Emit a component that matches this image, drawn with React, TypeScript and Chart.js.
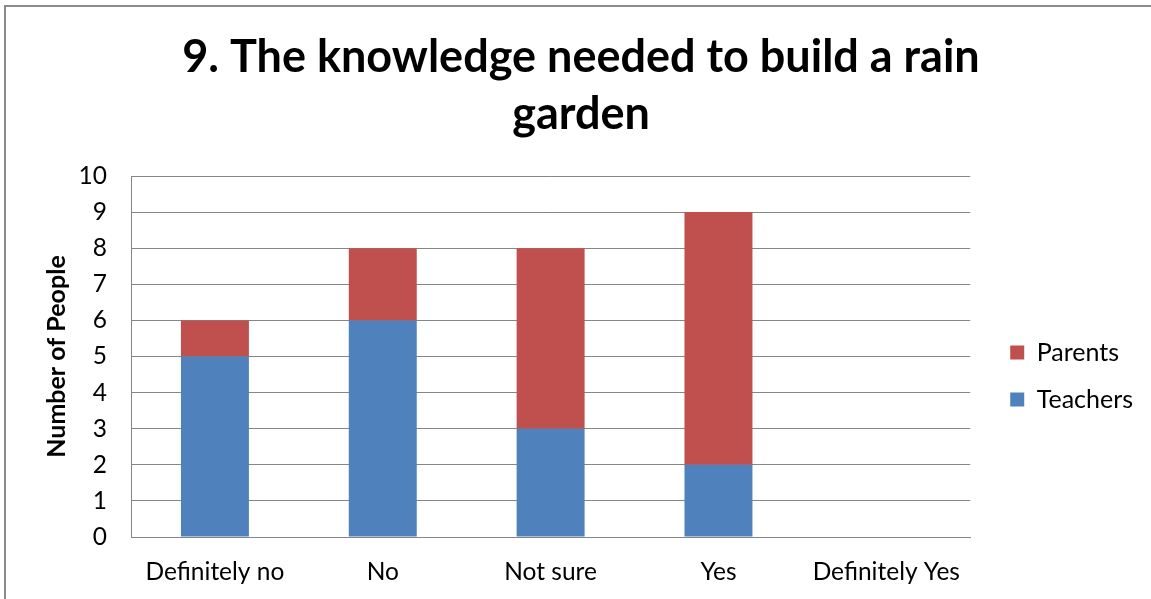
import React, { useEffect, useRef } from "react";
import { Chart, registerables } from "chart.js";

Chart.register(...registerables);

const categories = ["Definitely no", "No", "Not sure", "Yes", "Definitely Yes"];
const teachers = [5, 6, 3, 2, 0];
const parents = [1, 2, 5, 7, 0];
const titleLines = ["9. The knowledge needed to build a rain", "garden"];
const yAxisTitle = "Number of People";

const FONT = "Lato, 'Open Sans', sans-serif";

export default function App() {
  const ref = useRef<HTMLCanvasElement | null>(null);

  useEffect(() => {
    if (!ref.current) return;
    const chart = new Chart(ref.current, {
      type: "bar",
      data: {
        labels: categories,
        datasets: [
          {
            label: "Teachers",
            data: teachers,
            backgroundColor: "#4F81BD",
            borderWidth: 0,
            categoryPercentage: 1,
            barPercentage: 0.405,
          },
          {
            label: "Parents",
            data: parents,
            backgroundColor: "#C0504D",
            borderWidth: 0,
            categoryPercentage: 1,
            barPercentage: 0.405,
          },
        ],
      },
      options: {
        animation: false,
        responsive: true,
        maintainAspectRatio: false,
        layout: { padding: { top: 0, right: 8, bottom: 0, left: 13 } },
        plugins: {
          title: {
            display: true,
            text: titleLines,
            color: "#000",
            font: { family: FONT, size: 45, weight: "bold", lineHeight: 57 / 45 },
            padding: { top: 22, bottom: 33 },
          },
          legend: {
            display: true,
            position: "right",
            align: "start",
            reverse: true,
            title: {
              display: true,
              text: "_",
              color: "rgba(0,0,0,0)",
              font: { size: 10 },
              padding: 149.5,
            },
            labels: {
              boxWidth: 14,
              boxHeight: 14,
              padding: 22,
              color: "#000",
              font: { family: FONT, size: 25 },
            },
          },
          tooltip: { enabled: false },
        },
        scales: {
          x: {
            stacked: true,
            grid: { display: false, drawTicks: false },
            border: { display: true, color: "#868686", width: 1 },
            ticks: { color: "#000", font: { family: FONT, size: 24.5 }, padding: 20, maxRotation: 0 },
            afterFit: (scale: any) => {
              scale.height = 62;
            },
          },
          y: {
            stacked: true,
            min: 0,
            max: 10,
            grid: { color: "#868686", drawTicks: false, lineWidth: 1 },
            border: { display: true, color: "#868686", width: 1 },
            ticks: { stepSize: 1, color: "#000", font: { family: FONT, size: 24.5 }, padding: 24 },
            title: {
              display: true,
              text: yAxisTitle,
              color: "#000",
              font: { family: FONT, size: 25, weight: "bold" },
              padding: { top: 23, bottom: 0 },
            },
            afterFit: (scale: any) => {
              scale.width = 112;
            },
          },
          spacer: {
            type: "linear",
            position: "right",
            display: true,
            grid: { display: false, drawTicks: false },
            border: { display: false },
            ticks: { display: false },
            afterFit: (scale: any) => {
              scale.width = 18;
            },
          } as any,
        },
      },
    });
    return () => chart.destroy();
  }, []);

  return (
    <div style={{ position: "fixed", left: 0, top: 0, width: 1151, height: 599, overflow: "hidden", background: "#fff" }}>
      <div
        style={{
          position: "absolute",
          left: 4,
          top: 5,
          width: 1145,
          height: 592,
          borderLeft: "2px solid #8a8a8a",
          borderTop: "2px solid #8a8a8a",
        }}
      >
        <canvas ref={ref} />
      </div>
    </div>
  );
}
